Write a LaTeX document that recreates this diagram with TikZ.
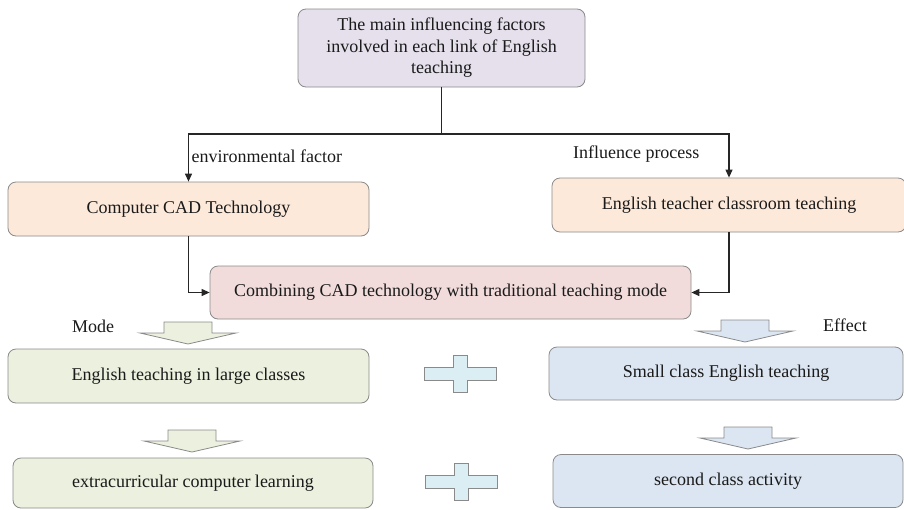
\documentclass[tikz,border=0pt]{standalone}
\usepackage{fontspec}
\setmainfont{Liberation Serif}
\usetikzlibrary{arrows.meta,positioning,calc}
\definecolor{lavender}{HTML}{E5E0EC}
\definecolor{peach}{HTML}{FDE9D9}
\definecolor{rose}{HTML}{F2DCDB}
\definecolor{olivefill}{HTML}{EBF1DE}
\definecolor{bluefill}{HTML}{DCE6F2}
\definecolor{aquafill}{HTML}{DBEEF4}
\definecolor{edgegray}{HTML}{8A8A8A}
\definecolor{linedark}{HTML}{262626}
\definecolor{textmain}{HTML}{1A1A1A}

% hollow down arrow: fill, centre x, top y
\newcommand{\downshape}[3]{%
  \draw[edgegray, line width=0.8pt, fill=#1]
    ({#2-24},{#3}) -- ({#2+24},{#3}) -- ({#2+24},{#3+11}) -- ({#2+48},{#3+11})
    -- ({#2},{#3+22}) -- ({#2-48},{#3+11}) -- ({#2-24},{#3+11}) -- cycle;
}
% plus sign: centre x, centre y
\newcommand{\plusshape}[2]{%
  \draw[edgegray, line width=0.8pt, fill=aquafill]
    ({#1-7},{#2-19}) -- ({#1+7},{#2-19}) -- ({#1+7},{#2-6.5}) -- ({#1+36},{#2-6.5})
    -- ({#1+36},{#2+6.5}) -- ({#1+7},{#2+6.5}) -- ({#1+7},{#2+18}) -- ({#1-7},{#2+18})
    -- ({#1-7},{#2+6.5}) -- ({#1-36},{#2+6.5}) -- ({#1-36},{#2-6.5}) -- ({#1-7},{#2-6.5}) -- cycle;
}

\begin{document}
\begin{tikzpicture}[x=1pt, y=-1pt,
  every node/.style={font=\fontsize{18}{21.5}\selectfont, text=textmain},
  box/.style={rectangle, rounded corners=8pt, draw=edgegray, line width=0.8pt,
    align=center, inner sep=0pt},
  link/.style={-{Triangle[length=8pt, width=7pt]}, linedark, line width=1.2pt},
]
\useasboundingbox (0,0) rectangle (904,509);

% Top factor box
\node[box, fill=lavender, minimum width=287pt, minimum height=78pt] at (441.5, 48) (factors) {
  The main influencing factors\\
  involved in each link of English\\
  teaching
};

% Second row
\node[box, fill=peach, minimum width=361pt, minimum height=54pt] at (188.5, 209) (cad) {Computer CAD Technology};
\node[box, fill=peach, minimum width=354pt, minimum height=54pt] at (729, 205) (teacher) {English teacher classroom teaching};

% Combined mode
\node[box, fill=rose, minimum width=481pt, minimum height=53pt] at (450.5, 292.5) (combine) {Combining CAD technology with traditional teaching mode};

% Mode column
\node[box, fill=olivefill, minimum width=361pt, minimum height=54pt] at (188.5, 376) (large) {English teaching in large classes};
\node[box, fill=olivefill, minimum width=360pt, minimum height=50pt] at (193, 483) (extra) {extracurricular computer learning};

% Effect column
\node[box, fill=bluefill, minimum width=354pt, minimum height=53pt] at (726, 373.5) (small) {Small class English teaching};
\node[box, fill=bluefill, minimum width=350pt, minimum height=53pt] at (728, 481) (second) {second class activity};

% Connectors
\coordinate (split) at (factors.south |- 0,134);
\draw[linedark, line width=1.2pt] (factors.south) -- (split);
\draw[link] (split) -| (cad.north);
\draw[link] (split) -| (teacher.north);
\draw[link] (cad.south) |- (combine.west);
\draw[link] (teacher.south) |- (combine.east);

% Labels
\node[anchor=west] at (188, 156) (envlab) {environmental factor};
\node[anchor=east] at (703, 154) (proclab) {Influence process};
\node at (93, 326) (modelab) {Mode};
\node at (845, 325) (effectlab) {Effect};

% Hollow arrows
\downshape{olivefill}{188}{322}
\downshape{olivefill}{192}{430}
\downshape{bluefill}{745}{320}
\downshape{bluefill}{748}{427}

% Plus signs
\plusshape{460}{374}
\plusshape{461}{482}

\end{tikzpicture}
\end{document}
